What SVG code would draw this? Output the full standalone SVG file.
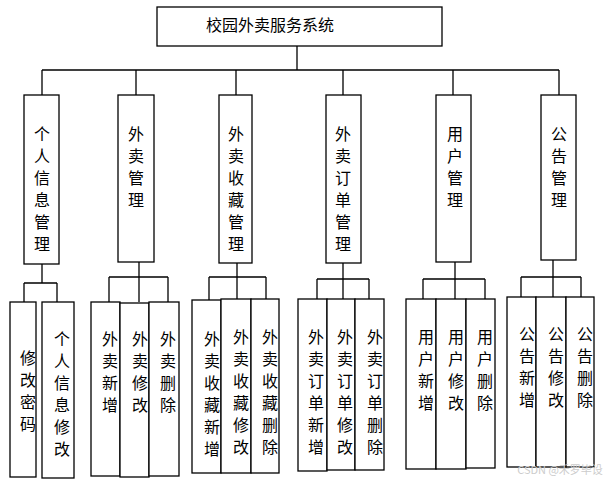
<svg xmlns="http://www.w3.org/2000/svg" width="605" height="482" viewBox="0 0 605 482">
<style>
rect{fill:#fff;stroke:#000;stroke-width:1.3}
path{fill:none;stroke:#000;stroke-width:1.3}
text{font-family:"Noto Sans CJK SC",sans-serif;font-size:16px;fill:#000;text-anchor:middle}
</style>
<rect width="605" height="482" style="stroke:none"/>
<g id="connectors">
<path d="M297 46V70M42 70H559M42 70V95M136 70V95M236 70V95M343 70V95M453 70V95M559 70V95"/>
<path d="M42 264V283M24 283H57M24 283V302M57 283V302"/>
<path d="M139 262V277M109 277H168M109 277V302M139 277V302M168 277V302"/>
<path d="M237 263V277M209 277H266M209 277V300M237 277V300M266 277V300"/>
<path d="M343 263V279M317 279H369M317 279V299M343 279V299M369 279V299"/>
<path d="M455 262V279M423 279H485M423 279V299M455 279V299M485 279V299"/>
<path d="M553 260V277M521 277H581M521 277V297M553 277V297M581 277V297"/>
</g>
<g id="root"><rect x="157" y="7" width="285" height="39"/><text x="270" y="31">校园外卖服务系统</text></g>
<g id="p1"><rect x="24" y="95" width="35" height="169"/><text x="42" y="140"><tspan x="42">个</tspan><tspan x="42" dy="22">人</tspan><tspan x="42" dy="22">信</tspan><tspan x="42" dy="22">息</tspan><tspan x="42" dy="22">管</tspan><tspan x="42" dy="22">理</tspan></text></g>
<g id="p2"><rect x="118" y="95" width="36" height="167"/><text x="136" y="140"><tspan x="136">外</tspan><tspan x="136" dy="22">卖</tspan><tspan x="136" dy="22">管</tspan><tspan x="136" dy="22">理</tspan></text></g>
<g id="p3"><rect x="219" y="95" width="33" height="168"/><text x="236" y="140"><tspan x="236">外</tspan><tspan x="236" dy="22">卖</tspan><tspan x="236" dy="22">收</tspan><tspan x="236" dy="22">藏</tspan><tspan x="236" dy="22">管</tspan><tspan x="236" dy="22">理</tspan></text></g>
<g id="p4"><rect x="326" y="95" width="35" height="168"/><text x="343" y="140"><tspan x="343">外</tspan><tspan x="343" dy="22">卖</tspan><tspan x="343" dy="22">订</tspan><tspan x="343" dy="22">单</tspan><tspan x="343" dy="22">管</tspan><tspan x="343" dy="22">理</tspan></text></g>
<g id="p5"><rect x="436" y="95" width="35" height="167"/><text x="455" y="140"><tspan x="455">用</tspan><tspan x="455" dy="22">户</tspan><tspan x="455" dy="22">管</tspan><tspan x="455" dy="22">理</tspan></text></g>
<g id="p6"><rect x="541" y="95" width="35" height="165"/><text x="559" y="140"><tspan x="559">公</tspan><tspan x="559" dy="22">告</tspan><tspan x="559" dy="22">管</tspan><tspan x="559" dy="22">理</tspan></text></g>
<g id="c11"><rect x="10" y="302" width="26" height="175"/><text x="28" y="364"><tspan x="28">修</tspan><tspan x="28" dy="22">改</tspan><tspan x="28" dy="22">密</tspan><tspan x="28" dy="22">码</tspan></text></g>
<g id="c12"><rect x="42" y="302" width="32" height="176"/><text x="62" y="345"><tspan x="62">个</tspan><tspan x="62" dy="22">人</tspan><tspan x="62" dy="22">信</tspan><tspan x="62" dy="22">息</tspan><tspan x="62" dy="22">修</tspan><tspan x="62" dy="22">改</tspan></text></g>
<g id="c21"><rect x="91" y="302" width="29" height="174"/><text x="110" y="345"><tspan x="110">外</tspan><tspan x="110" dy="22">卖</tspan><tspan x="110" dy="22">新</tspan><tspan x="110" dy="22">增</tspan></text></g>
<g id="c22"><rect x="120" y="303" width="29" height="174"/><text x="140" y="345"><tspan x="140">外</tspan><tspan x="140" dy="22">卖</tspan><tspan x="140" dy="22">修</tspan><tspan x="140" dy="22">改</tspan></text></g>
<g id="c23"><rect x="149" y="302" width="30" height="174"/><text x="168" y="345"><tspan x="168">外</tspan><tspan x="168" dy="22">卖</tspan><tspan x="168" dy="22">删</tspan><tspan x="168" dy="22">除</tspan></text></g>
<g id="c31"><rect x="192" y="300" width="29" height="173"/><text x="212" y="345"><tspan x="212">外</tspan><tspan x="212" dy="22">卖</tspan><tspan x="212" dy="22">收</tspan><tspan x="212" dy="22">藏</tspan><tspan x="212" dy="22">新</tspan><tspan x="212" dy="22">增</tspan></text></g>
<g id="c32"><rect x="221" y="299" width="30" height="174"/><text x="241" y="343"><tspan x="241">外</tspan><tspan x="241" dy="22">卖</tspan><tspan x="241" dy="22">收</tspan><tspan x="241" dy="22">藏</tspan><tspan x="241" dy="22">修</tspan><tspan x="241" dy="22">改</tspan></text></g>
<g id="c33"><rect x="251" y="299" width="28" height="174"/><text x="270" y="343"><tspan x="270">外</tspan><tspan x="270" dy="22">卖</tspan><tspan x="270" dy="22">收</tspan><tspan x="270" dy="22">藏</tspan><tspan x="270" dy="22">删</tspan><tspan x="270" dy="22">除</tspan></text></g>
<g id="c41"><rect x="298" y="299" width="29" height="172"/><text x="316" y="343"><tspan x="316">外</tspan><tspan x="316" dy="22">卖</tspan><tspan x="316" dy="22">订</tspan><tspan x="316" dy="22">单</tspan><tspan x="316" dy="22">新</tspan><tspan x="316" dy="22">增</tspan></text></g>
<g id="c42"><rect x="327" y="299" width="28" height="171"/><text x="345" y="343"><tspan x="345">外</tspan><tspan x="345" dy="22">卖</tspan><tspan x="345" dy="22">订</tspan><tspan x="345" dy="22">单</tspan><tspan x="345" dy="22">修</tspan><tspan x="345" dy="22">改</tspan></text></g>
<g id="c43"><rect x="355" y="299" width="29" height="171"/><text x="375" y="343"><tspan x="375">外</tspan><tspan x="375" dy="22">卖</tspan><tspan x="375" dy="22">订</tspan><tspan x="375" dy="22">单</tspan><tspan x="375" dy="22">删</tspan><tspan x="375" dy="22">除</tspan></text></g>
<g id="c51"><rect x="406" y="299" width="30" height="170"/><text x="426" y="343"><tspan x="426">用</tspan><tspan x="426" dy="22">户</tspan><tspan x="426" dy="22">新</tspan><tspan x="426" dy="22">增</tspan></text></g>
<g id="c52"><rect x="436" y="299" width="30" height="170"/><text x="456" y="343"><tspan x="456">用</tspan><tspan x="456" dy="22">户</tspan><tspan x="456" dy="22">修</tspan><tspan x="456" dy="22">改</tspan></text></g>
<g id="c53"><rect x="466" y="299" width="29" height="169"/><text x="485" y="343"><tspan x="485">用</tspan><tspan x="485" dy="22">户</tspan><tspan x="485" dy="22">删</tspan><tspan x="485" dy="22">除</tspan></text></g>
<g id="c61"><rect x="507" y="297" width="29" height="170"/><text x="527" y="340"><tspan x="527">公</tspan><tspan x="527" dy="22">告</tspan><tspan x="527" dy="22">新</tspan><tspan x="527" dy="22">增</tspan></text></g>
<g id="c62"><rect x="536" y="297" width="30" height="170"/><text x="556" y="340"><tspan x="556">公</tspan><tspan x="556" dy="22">告</tspan><tspan x="556" dy="22">修</tspan><tspan x="556" dy="22">改</tspan></text></g>
<g id="c63"><rect x="566" y="297" width="28" height="170"/><text x="585" y="340"><tspan x="585">公</tspan><tspan x="585" dy="22">告</tspan><tspan x="585" dy="22">删</tspan><tspan x="585" dy="22">除</tspan></text></g>
<text x="560" y="474" style="font-size:11px;fill:#ccc">CSDN @禾罗毕设</text>
</svg>
